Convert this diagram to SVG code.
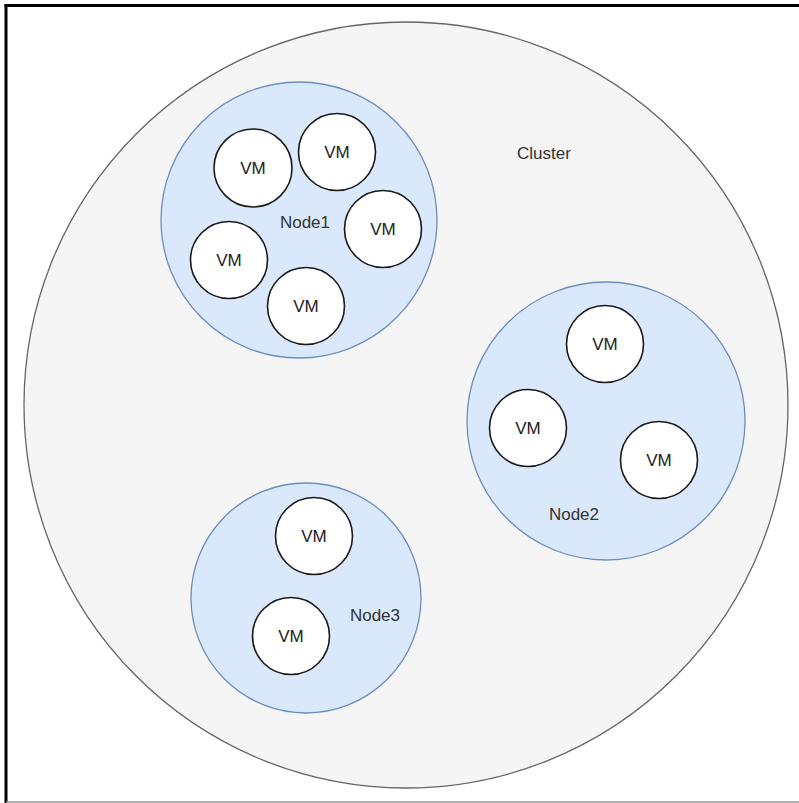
<svg xmlns="http://www.w3.org/2000/svg" width="799" height="803" viewBox="0 0 799 803">
<style>
.cluster{fill:#f5f5f5;stroke:#666666;stroke-width:1.3}
.node{fill:#dae8fc;stroke:#6c8ebf;stroke-width:1.3}
.vm{fill:#ffffff;stroke:#1a1a1a;stroke-width:1.6}
text{font-family:"Liberation Sans",Arial,Helvetica,sans-serif;font-size:17px;fill:#333333;text-anchor:middle;dominant-baseline:central}
.vmt{fill:#222222}
</style>
<rect x="0" y="0" width="799" height="803" fill="#ffffff"/>
<g id="frame">
<line x1="4.5" y1="5.5" x2="799" y2="5.5" stroke="#000" stroke-width="3"/>
<line x1="6" y1="4" x2="6" y2="803" stroke="#000" stroke-width="3"/>
<line x1="6" y1="802" x2="799" y2="802" stroke="#999" stroke-width="1.5"/>
</g>
<g id="cluster">
<ellipse class="cluster" cx="406" cy="405" rx="382" ry="383"/>
<text x="544" y="153">Cluster</text>
</g>
<g id="node1">
<circle class="node" cx="299" cy="220" r="138"/>
<text x="305" y="222">Node1</text>
</g>
<g id="node2">
<circle class="node" cx="606" cy="421" r="139"/>
<text x="574" y="514">Node2</text>
</g>
<g id="node3">
<circle class="node" cx="306" cy="598" r="115"/>
<text x="375" y="615">Node3</text>
</g>
<g id="vm1-1"><circle class="vm" cx="253" cy="168" r="39"/><text class="vmt" x="253" y="168">VM</text></g>
<g id="vm1-2"><circle class="vm" cx="337" cy="152" r="38.5"/><text class="vmt" x="337" y="152">VM</text></g>
<g id="vm1-3"><circle class="vm" cx="383" cy="229" r="38.5"/><text class="vmt" x="383" y="229">VM</text></g>
<g id="vm1-4"><circle class="vm" cx="229" cy="260" r="38.5"/><text class="vmt" x="229" y="260">VM</text></g>
<g id="vm1-5"><circle class="vm" cx="306" cy="306" r="38.5"/><text class="vmt" x="306" y="306">VM</text></g>
<g id="vm2-1"><circle class="vm" cx="605" cy="344" r="38.5"/><text class="vmt" x="605" y="344">VM</text></g>
<g id="vm2-2"><circle class="vm" cx="528" cy="428" r="38.5"/><text class="vmt" x="528" y="428">VM</text></g>
<g id="vm2-3"><circle class="vm" cx="659" cy="460" r="38.5"/><text class="vmt" x="659" y="460">VM</text></g>
<g id="vm3-1"><circle class="vm" cx="314" cy="536" r="38.5"/><text class="vmt" x="314" y="536">VM</text></g>
<g id="vm3-2"><circle class="vm" cx="291" cy="636" r="38.5"/><text class="vmt" x="291" y="636">VM</text></g>
<g id="connectors"></g>
</svg>
